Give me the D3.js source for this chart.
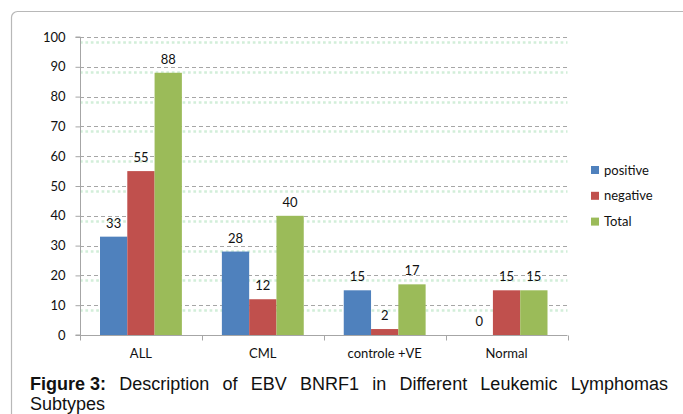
<!DOCTYPE html>
<html>
<head>
<meta charset="utf-8">
<script src="https://cdn.jsdelivr.net/npm/d3@7"></script>
<style>
  body { margin: 0; background: #fff; }
  svg { display: block; }
</style>
</head>
<body>
<svg width="683" height="414"></svg>
<script>
// Chart data
var categories = ["ALL", "CML", "controle +VE", "Normal"];
var seriesNames = ["positive", "negative", "Total"];
var positive = [33, 28, 15, 0];
var negative = [55, 12, 2, 15];
var total = [88, 40, 17, 15];
var yTicks = [0, 10, 20, 30, 40, 50, 60, 70, 80, 90, 100];
var colors = ["#4F81BD", "#C0504D", "#9BBB59"];
var captionBold = "Figure 3:";
var captionText = "Description of EBV BNRF1 in Different Leukemic Lymphomas Subtypes";

var values = [positive, negative, total];
var labelFont = "Lato, 'Open Sans', sans-serif";

var svg = d3.select("svg");

// Card frame (runs off the right and bottom edges)
svg.append("rect")
  .attr("x", 11.5).attr("y", 11.5)
  .attr("width", 720).attr("height", 460)
  .attr("rx", 6)
  .attr("fill", "none")
  .attr("stroke", "#b8b8b8")
  .attr("stroke-width", 1.2);

var x0 = d3.scaleBand().domain(categories).range([80, 567.5]);
var x1 = d3.scaleBand().domain(seriesNames).range([20, x0.bandwidth() - 20]);
var y = d3.scaleLinear().domain([0, 100]).range([335, 37]);

var grid = yTicks.filter(function(d) { return d > 0; });

// faint green dotted lines under each gridline
svg.append("g").selectAll("line")
  .data(grid)
  .enter().append("line")
  .attr("x1", 80).attr("x2", 567.5)
  .attr("y1", function(d) { return Math.round(y(d)) + 5.5; })
  .attr("y2", function(d) { return Math.round(y(d)) + 5.5; })
  .attr("stroke", "#d2eed9")
  .attr("stroke-width", 2.5)
  .attr("stroke-dasharray", "2.7,2.7");

svg.append("g").selectAll("line")
  .data(grid)
  .enter().append("line")
  .attr("x1", 80).attr("x2", 567.5)
  .attr("y1", function(d) { return Math.round(y(d)) + 0.5; })
  .attr("y2", function(d) { return Math.round(y(d)) + 0.5; })
  .attr("stroke", "#a6a6a6")
  .attr("stroke-width", 1)
  .attr("stroke-dasharray", "4,3");

// Bars
var groups = svg.append("g").selectAll("g")
  .data(categories)
  .enter().append("g")
  .attr("transform", function(d) { return "translate(" + x0(d) + ",0)"; });

groups.selectAll("rect")
  .data(function(d, i) { return seriesNames.map(function(s, j) { return { s: s, j: j, v: values[j][i] }; }); })
  .enter().append("rect")
  .attr("x", function(d) { return x1(d.s); })
  .attr("width", x1.bandwidth())
  .attr("y", function(d) { return y(d.v); })
  .attr("height", function(d) { return y(0) - y(d.v); })
  .attr("fill", function(d) { return colors[d.j]; });

groups.selectAll("text")
  .data(function(d, i) { return seriesNames.map(function(s, j) { return { s: s, j: j, v: values[j][i] }; }); })
  .enter().append("text")
  .attr("x", function(d) { return x1(d.s) + x1.bandwidth() / 2; })
  .attr("y", function(d) { return y(d.v) - 9; })
  .attr("text-anchor", "middle")
  .attr("font-family", labelFont)
  .attr("font-size", 13)
  .attr("fill", "#111")
  .text(function(d) { return d.v; });

// Y axis
var yAxis = svg.append("g")
  .attr("transform", "translate(80.5,0)")
  .call(d3.axisLeft(y).tickValues(yTicks).tickSize(5).tickPadding(10));
yAxis.select(".domain").attr("stroke", "#a6a6a6").attr("d", "M-5,37H0V335H-5");
yAxis.selectAll(".tick line").attr("stroke", "#a6a6a6");
yAxis.selectAll("text").attr("font-family", labelFont).attr("font-size", 13).attr("fill", "#111");

// X axis with ticks between categories
var xAxis = svg.append("g")
  .attr("transform", "translate(0,335.5)")
  .call(d3.axisBottom(x0).tickSize(0).tickPadding(13));
xAxis.select(".domain").attr("stroke", "#a6a6a6").attr("d", "M80,0H567.5");
xAxis.selectAll("text").attr("font-family", labelFont).attr("font-size", 13).attr("fill", "#111");
xAxis.selectAll(".sep")
  .data(categories.concat(["end"]))
  .enter().append("line")
  .attr("class", "sep")
  .attr("x1", function(d, i) { return Math.round(80 + i * x0.bandwidth()) + 0.5; })
  .attr("x2", function(d, i) { return Math.round(80 + i * x0.bandwidth()) + 0.5; })
  .attr("y1", 0).attr("y2", 5)
  .attr("stroke", "#a6a6a6");

// Legend
var legend = svg.append("g").selectAll("g")
  .data(seriesNames)
  .enter().append("g")
  .attr("transform", function(d, i) { return "translate(591," + (166 + i * 25.8) + ")"; });
legend.append("rect")
  .attr("width", 8).attr("height", 8)
  .attr("fill", function(d, i) { return colors[i]; });
legend.append("text")
  .attr("x", 13).attr("y", 8.5)
  .attr("font-family", labelFont)
  .attr("font-size", 13)
  .attr("fill", "#111")
  .text(function(d) { return d; });

// Caption, justified on the first line
var capFont = "'Liberation Sans', Arial, sans-serif";
var words = [captionBold].concat(captionText.split(" "));
var capLeft = 30, capRight = 668;
var cap = svg.append("g");
var nodes = words.map(function(w, i) {
  var t = cap.append("text")
    .attr("font-family", capFont)
    .attr("font-size", 18)
    .attr("font-weight", i == 0 ? "bold" : "normal")
    .attr("fill", "#111")
    .text(w);
  return { node: t, w: t.node().getComputedTextLength() };
});
// first line: all words except the last
var line1 = nodes.slice(0, nodes.length - 1);
var used = d3.sum(line1, function(d) { return d.w; });
var gap = (capRight - capLeft - used) / (line1.length - 1);
var cx = capLeft;
line1.forEach(function(d) {
  d.node.attr("x", cx).attr("y", 390);
  cx += d.w + gap;
});
nodes[nodes.length - 1].node.attr("x", capLeft).attr("y", 410);
</script>
</body>
</html>
